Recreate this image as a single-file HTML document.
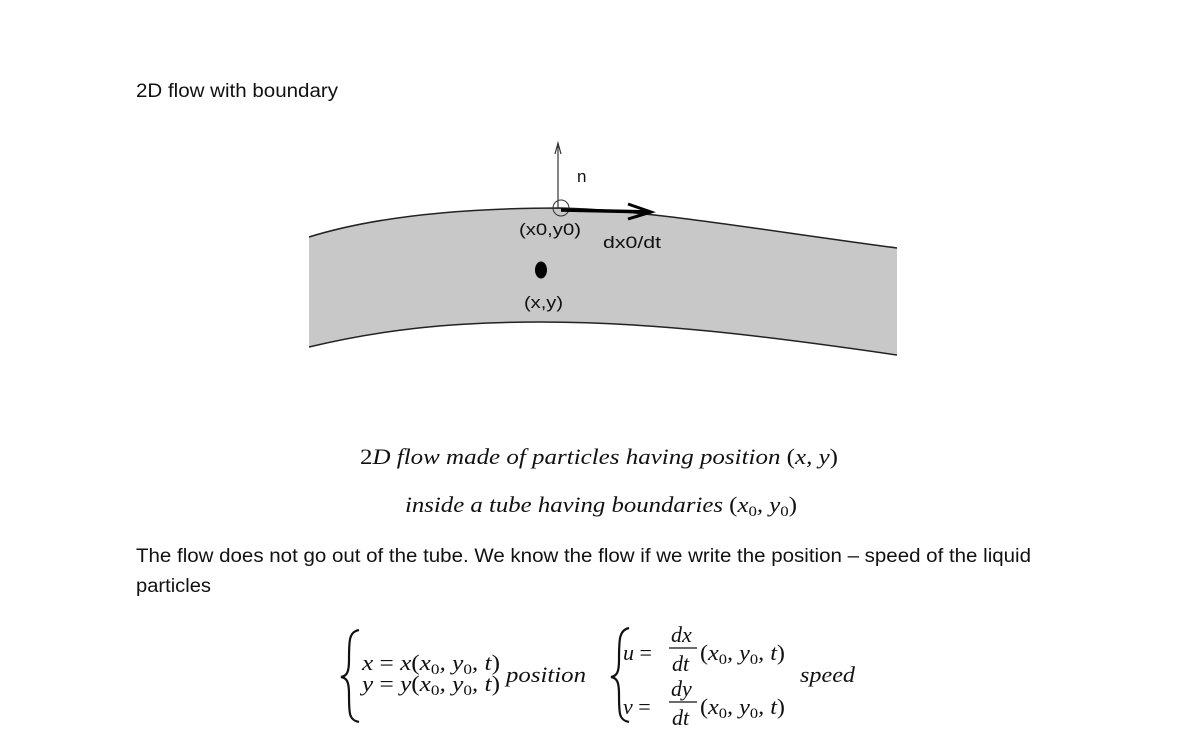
<!DOCTYPE html>
<html><head><meta charset="utf-8"><style>
html,body{margin:0;padding:0;background:#fff;}
svg{display:block;}
.s{font-family:"Liberation Sans",sans-serif;fill:#111;}
.m{font-family:"Liberation Serif","DejaVu Serif",serif;font-style:italic;fill:#111;font-size:22px;}
.u{font-style:normal;}
</style></head><body>
<svg width="1200" height="742" viewBox="0 0 1200 742" xmlns="http://www.w3.org/2000/svg">
<text class="s" x="136" y="97" font-size="19" textLength="202" lengthAdjust="spacingAndGlyphs">2D flow with boundary</text>

<path d="M309,237 C380,215 470,208 560,208 C650,210 760,230 897,248 L897,355 C760,335 650,322 540,322 C450,322 380,330 309,347 Z" fill="#c8c8c8" stroke="none"/>
<path d="M309,237 C380,215 470,208 560,208 C650,210 760,230 897,248" fill="none" stroke="#222" stroke-width="1.5"/>
<path d="M309,347 C380,330 450,322 540,322 C650,322 760,335 897,355" fill="none" stroke="#222" stroke-width="1.5"/>

<line x1="558" y1="208" x2="558" y2="146" stroke="#333" stroke-width="1.2"/>
<path d="M555,154 L558,143 L561,154" fill="none" stroke="#333" stroke-width="1.2"/>
<circle cx="561" cy="208" r="8" fill="none" stroke="#333" stroke-width="1"/>
<line x1="561" y1="210" x2="650" y2="212" stroke="#000" stroke-width="3.5"/>
<path d="M628,204 L651,212 L628,219" fill="none" stroke="#000" stroke-width="3"/>
<ellipse cx="541" cy="270" rx="6" ry="8.5" fill="#000"/>

<text class="s" x="577" y="182" font-size="17">n</text>
<text class="s" x="519" y="235" font-size="17" textLength="62" lengthAdjust="spacingAndGlyphs">(x0,y0)</text>
<text class="s" x="603" y="248" font-size="17" textLength="58" lengthAdjust="spacingAndGlyphs">dx0/dt</text>
<text class="s" x="524" y="308" font-size="17" textLength="39" lengthAdjust="spacingAndGlyphs">(x,y)</text>

<text class="m" x="360" y="464" textLength="478" lengthAdjust="spacingAndGlyphs"><tspan class="u">2</tspan>D flow made of particles having position <tspan class="u">(</tspan>x, y<tspan class="u">)</tspan></text>
<text class="m" x="405" y="512" textLength="392" lengthAdjust="spacingAndGlyphs">inside a tube having boundaries <tspan class="u">(</tspan>x<tspan class="u" font-size="15" dy="4">0</tspan><tspan dy="-4">, y</tspan><tspan class="u" font-size="15" dy="4">0</tspan><tspan class="u" dy="-4">)</tspan></text>

<text class="s" x="136" y="562" font-size="19" textLength="895" lengthAdjust="spacingAndGlyphs">The flow does not go out of the tube. We know the flow if we write the position – speed of the liquid</text>
<text class="s" x="136" y="592" font-size="19" textLength="75" lengthAdjust="spacingAndGlyphs">particles</text>

<!-- left system -->
<path d="M359,630 C349,632 349,640 349,660 C349,672 347,676 341,677 C347,678 349,682 349,694 C349,714 349,720 359,722" fill="none" stroke="#111" stroke-width="2.2"/>
<text class="m" x="362" y="670" textLength="138" lengthAdjust="spacingAndGlyphs">x <tspan class="u">=</tspan> x<tspan class="u">(</tspan>x<tspan class="u" font-size="15" dy="4">0</tspan><tspan dy="-4">, y</tspan><tspan class="u" font-size="15" dy="4">0</tspan><tspan dy="-4">, t</tspan><tspan class="u">)</tspan></text>
<text class="m" x="362" y="691" textLength="138" lengthAdjust="spacingAndGlyphs">y <tspan class="u">=</tspan> y<tspan class="u">(</tspan>x<tspan class="u" font-size="15" dy="4">0</tspan><tspan dy="-4">, y</tspan><tspan class="u" font-size="15" dy="4">0</tspan><tspan dy="-4">, t</tspan><tspan class="u">)</tspan></text>
<text class="m" x="506" y="682" textLength="80" lengthAdjust="spacingAndGlyphs">position</text>

<!-- right system -->
<path d="M629,628 C619,630 619,640 619,660 C619,672 617,676 611,677 C617,678 619,682 619,694 C619,714 619,720 629,722" fill="none" stroke="#111" stroke-width="2.2"/>
<text class="m" x="623" y="660">u <tspan class="u">=</tspan></text>
<text class="m" x="671" y="642">dx</text>
<line x1="669" y1="648" x2="697" y2="648" stroke="#111" stroke-width="1.2"/>
<text class="m" x="672" y="671">dt</text>
<text class="m" x="700" y="660" textLength="85" lengthAdjust="spacingAndGlyphs"><tspan class="u">(</tspan>x<tspan class="u" font-size="15" dy="4">0</tspan><tspan dy="-4">, y</tspan><tspan class="u" font-size="15" dy="4">0</tspan><tspan dy="-4">, t</tspan><tspan class="u">)</tspan></text>

<text class="m" x="623" y="714">v <tspan class="u">=</tspan></text>
<text class="m" x="671" y="696">dy</text>
<line x1="669" y1="702" x2="697" y2="702" stroke="#111" stroke-width="1.2"/>
<text class="m" x="672" y="725">dt</text>
<text class="m" x="700" y="714" textLength="85" lengthAdjust="spacingAndGlyphs"><tspan class="u">(</tspan>x<tspan class="u" font-size="15" dy="4">0</tspan><tspan dy="-4">, y</tspan><tspan class="u" font-size="15" dy="4">0</tspan><tspan dy="-4">, t</tspan><tspan class="u">)</tspan></text>

<text class="m" x="800" y="682" textLength="55" lengthAdjust="spacingAndGlyphs">speed</text>
</svg>
</body></html>
